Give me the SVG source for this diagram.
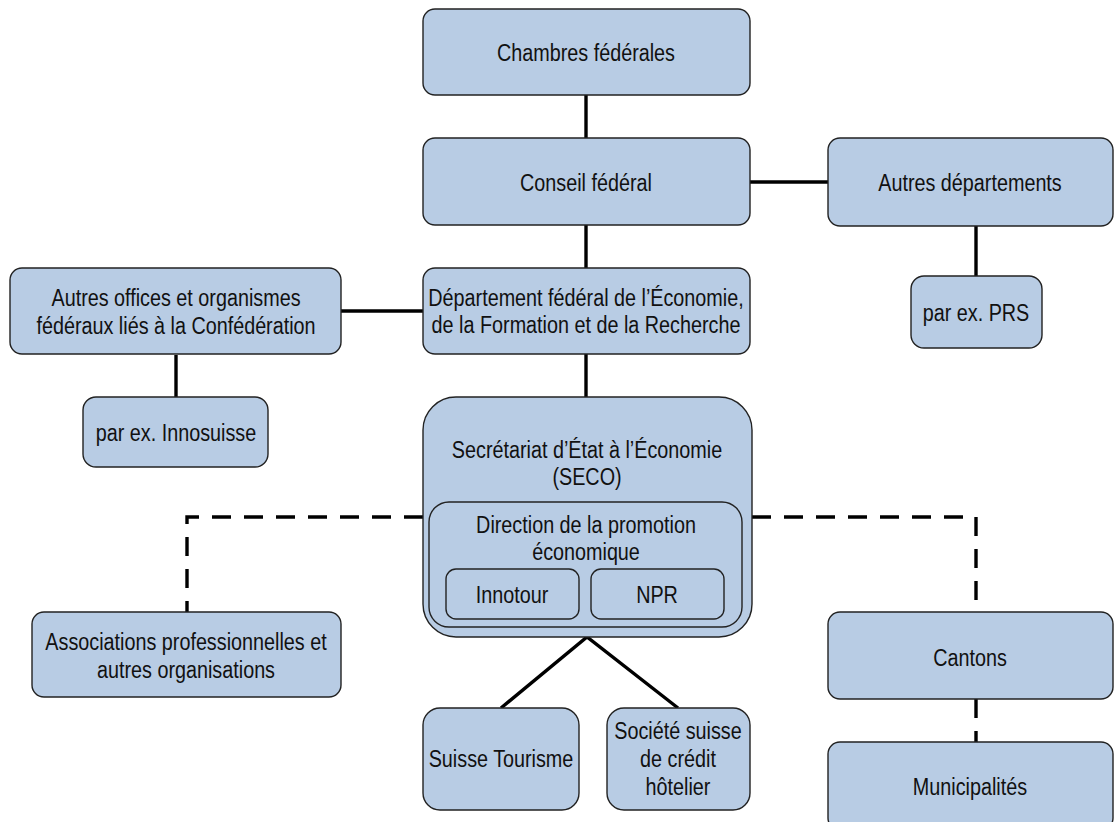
<svg xmlns="http://www.w3.org/2000/svg" width="1115" height="822" viewBox="0 0 1115 822">
<style>
.b{fill:#b8cce4;stroke:#222;stroke-width:1.4}
.t{font-family:"Liberation Sans",Arial,sans-serif;font-size:23px;fill:#111;text-anchor:middle}
.c{fill:none;stroke:#000;stroke-width:3.4}
.d{fill:none;stroke:#000;stroke-width:3.4;stroke-dasharray:19 13}
</style>
<rect width="1115" height="822" fill="#fff"/>
<g id="connectors">
<line class="c" x1="586" y1="95" x2="586" y2="138"/>
<line class="c" x1="586" y1="225" x2="586" y2="268"/>
<line class="c" x1="750" y1="182" x2="828" y2="182"/>
<line class="c" x1="976" y1="226" x2="976" y2="276"/>
<line class="c" x1="341" y1="311" x2="423" y2="311"/>
<line class="c" x1="176" y1="355" x2="176" y2="397"/>
<line class="c" x1="586" y1="354" x2="586" y2="397"/>
<polyline class="c" points="501,708 587,637 678,708"/>
<path class="d" d="M423 517 H187 V612"/>
<path class="d" d="M752 517 H976 V612"/>
<line class="d" x1="976" y1="699" x2="976" y2="742"/>
</g>
<g id="chambres">
<rect class="b" x="423" y="9" width="327" height="86" rx="12"/>
<text class="t" transform="translate(586 0) scale(0.86 1)" y="61">Chambres fédérales</text>
</g>
<g id="conseil">
<rect class="b" x="423" y="138" width="327" height="87" rx="12"/>
<text class="t" transform="translate(586 0) scale(0.86 1)" y="191">Conseil fédéral</text>
</g>
<g id="autres-departements">
<rect class="b" x="828" y="138" width="285" height="88" rx="12"/>
<text class="t" transform="translate(970 0) scale(0.86 1)" y="191">Autres départements</text>
</g>
<g id="prs">
<rect class="b" x="911" y="276" width="131" height="72" rx="13"/>
<text class="t" transform="translate(976 0) scale(0.86 1)" y="321">par ex. PRS</text>
</g>
<g id="departement">
<rect class="b" x="423" y="268" width="327" height="86" rx="12"/>
<text class="t" transform="translate(586 0) scale(0.86 1)" y="306">Département fédéral de l’Économie,</text>
<text class="t" transform="translate(586 0) scale(0.86 1)" y="333">de la Formation et de la Recherche</text>
</g>
<g id="autres-offices">
<rect class="b" x="10" y="268" width="331" height="86" rx="12"/>
<text class="t" transform="translate(176 0) scale(0.86 1)" y="306">Autres offices et organismes</text>
<text class="t" transform="translate(176 0) scale(0.86 1)" y="334">fédéraux liés à la Confédération</text>
</g>
<g id="innosuisse">
<rect class="b" x="83" y="397" width="185" height="70" rx="13"/>
<text class="t" transform="translate(176 0) scale(0.86 1)" y="441">par ex. Innosuisse</text>
</g>
<g id="seco">
<rect class="b" x="423" y="397" width="329" height="240" rx="33"/>
<text class="t" transform="translate(587 0) scale(0.86 1)" y="458">Secrétariat d’État à l’Économie</text>
<text class="t" transform="translate(587 0) scale(0.86 1)" y="485">(SECO)</text>
</g>
<g id="direction">
<rect class="b" x="429" y="502" width="313" height="125" rx="20"/>
<text class="t" transform="translate(586 0) scale(0.86 1)" y="533">Direction de la promotion</text>
<text class="t" transform="translate(586 0) scale(0.86 1)" y="560">économique</text>
</g>
<g id="innotour">
<rect class="b" x="446" y="569" width="133" height="50" rx="10"/>
<text class="t" transform="translate(512 0) scale(0.86 1)" y="603">Innotour</text>
</g>
<g id="npr">
<rect class="b" x="591" y="569" width="133" height="50" rx="10"/>
<text class="t" transform="translate(657 0) scale(0.86 1)" y="603">NPR</text>
</g>
<g id="associations">
<rect class="b" x="32" y="612" width="309" height="85" rx="12"/>
<text class="t" transform="translate(186 0) scale(0.86 1)" y="650">Associations professionnelles et</text>
<text class="t" transform="translate(186 0) scale(0.86 1)" y="678">autres organisations</text>
</g>
<g id="cantons">
<rect class="b" x="828" y="612" width="285" height="87" rx="12"/>
<text class="t" transform="translate(970 0) scale(0.86 1)" y="666">Cantons</text>
</g>
<g id="municipalites">
<rect class="b" x="828" y="742" width="285" height="88" rx="12"/>
<text class="t" transform="translate(970 0) scale(0.86 1)" y="795">Municipalités</text>
</g>
<g id="suisse-tourisme">
<rect class="b" x="423" y="708" width="156" height="102" rx="17"/>
<text class="t" transform="translate(501 0) scale(0.86 1)" y="767">Suisse Tourisme</text>
</g>
<g id="sch">
<rect class="b" x="607" y="708" width="143" height="102" rx="17"/>
<text class="t" transform="translate(678 0) scale(0.86 1)" y="739">Société suisse</text>
<text class="t" transform="translate(678 0) scale(0.86 1)" y="767">de crédit</text>
<text class="t" transform="translate(678 0) scale(0.86 1)" y="795">hôtelier</text>
</g>
</svg>
